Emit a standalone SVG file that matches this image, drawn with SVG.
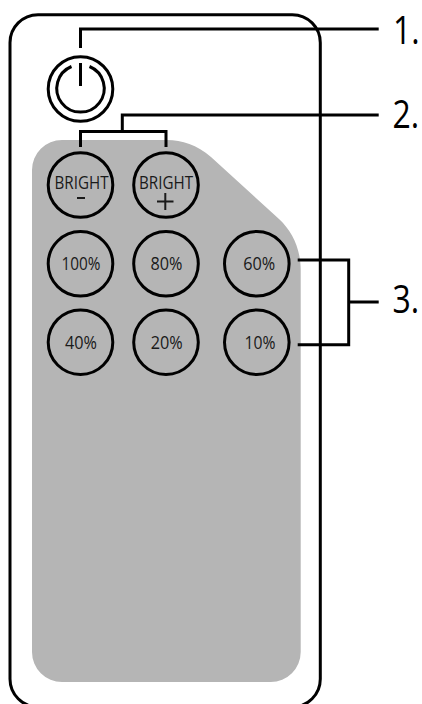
<svg xmlns="http://www.w3.org/2000/svg" width="422" height="704" viewBox="0 0 422 704">
<style>
.l{fill:none;stroke:#000;stroke-width:3;stroke-linejoin:miter}
.b{fill:none;stroke:#000;stroke-width:3}
.s{fill:none;stroke:#1a1a1a;stroke-width:2}
text{font-family:"Open Sans","Noto Sans",sans-serif;fill:#1a1a1a;text-anchor:middle}
.t{font-size:17.5px}
.n{font-size:38px;fill:#000;text-anchor:start}
</style>
<rect width="422" height="704" fill="#fff"/>
<g id="body"><rect x="10" y="14.700" width="310.300" height="692.300" rx="28" ry="28" fill="#fff" stroke="#000" stroke-width="3"/></g>
<g id="panel"><path d="M62 140H167C182 140 197 145 211 157L279 219C293 232 300.700 250 300.700 270V652A30 30 0 0 1 270.700 682H62A30 30 0 0 1 32 652V170A30 30 0 0 1 62 140Z" fill="#b5b5b5"/></g>
<g id="connectors">
<path class="l" d="M80.500 48V29H378.700"/>
<path class="l" d="M378.700 115H122.300V131.500M80.500 147V131.500H166V147"/>
<path class="l" d="M297.700 260H348.700V344.700H297.700M348.700 302H378.700"/>
</g>
<g id="power"><circle class="b" cx="80.500" cy="89" r="32.300"/><path class="b" d="M71.500 66.500A23.700 23.700 0 1 0 89.500 66.500M80.500 63V86"/></g>
<g id="bright-minus"><circle class="b" cx="80.500" cy="185" r="32.300"/><text class="t" x="81.500" y="188.500" textLength="54" lengthAdjust="spacingAndGlyphs">BRIGHT</text><path class="s" d="M77 198H85"/></g>
<g id="bright-plus"><circle class="b" cx="166" cy="185" r="32.300"/><text class="t" x="166" y="188.500" textLength="54" lengthAdjust="spacingAndGlyphs">BRIGHT</text><path class="s" d="M157 201.500H173.500M165.300 193V210"/></g>
<g id="b100"><circle class="b" cx="80.500" cy="263.800" r="32.300"/><text class="t" x="81" y="270" textLength="39" lengthAdjust="spacingAndGlyphs">100%</text></g>
<g id="b80"><circle class="b" cx="166" cy="263.800" r="32.300"/><text class="t" x="166.500" y="270" textLength="32" lengthAdjust="spacingAndGlyphs">80%</text></g>
<g id="b60"><circle class="b" cx="256.800" cy="263.800" r="32.300"/><text class="t" x="259.300" y="270" textLength="32" lengthAdjust="spacingAndGlyphs">60%</text></g>
<g id="b40"><circle class="b" cx="80.500" cy="342.200" r="32.300"/><text class="t" x="81" y="348.500" textLength="32" lengthAdjust="spacingAndGlyphs">40%</text></g>
<g id="b20"><circle class="b" cx="166" cy="342.200" r="32.300"/><text class="t" x="166.700" y="348.500" textLength="32" lengthAdjust="spacingAndGlyphs">20%</text></g>
<g id="b10"><circle class="b" cx="256.800" cy="342.200" r="32.300"/><text class="t" x="260" y="348.500" textLength="31" lengthAdjust="spacingAndGlyphs">10%</text></g>
<g id="labels">
<text class="n" transform="translate(393 44) scale(.84 1)">1.</text>
<text class="n" transform="translate(392.500 128) scale(.84 1)">2.</text>
<text class="n" transform="translate(392.500 313) scale(.84 1)">3.</text>
</g>
</svg>
